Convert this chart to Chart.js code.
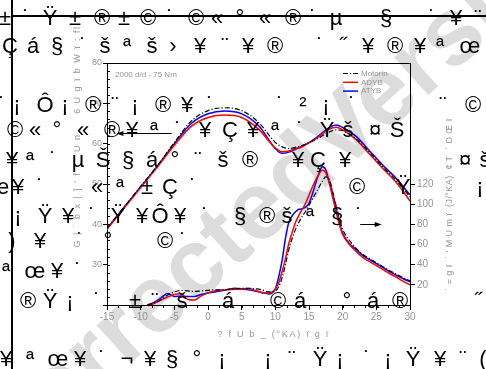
<!DOCTYPE html>
<html><head><meta charset="utf-8">
<script src="https://cdn.jsdelivr.net/npm/chart.js@4.4.0/dist/chart.umd.min.js"></script>
<style>
html,body{margin:0;padding:0;background:#fff;}
#wrap{position:relative;width:486px;height:369px;overflow:hidden;background:#fff;}
#wm{position:absolute;left:0;top:0;font-family:"Liberation Sans",Arial,sans-serif;font-size:96px;font-weight:bold;color:#dcdcdc;white-space:nowrap;line-height:96px;}
#c{position:absolute;left:0;top:0;}
#ov{position:absolute;left:0;top:0;width:486px;height:369px;pointer-events:none;}
.g{position:absolute;font-family:"Liberation Sans",Arial,sans-serif;font-size:22px;color:#000;white-space:pre;}
.t{position:absolute;font-family:"Liberation Sans",Arial,sans-serif;font-size:9px;color:#959595;white-space:pre;line-height:1;}
.ln{position:absolute;background:#000;}
</style></head>
<body>
<div id="wrap">
  <div id="wm">CorrectedVersion</div>
  <canvas id="c" width="486" height="369"></canvas>
  <div id="ov"></div>
</div>
<script>
// ---- chart data ----
const seriesNames = ['Motorin', 'ADYB', 'ATYB'];
const crankP = [-15,-12.5,-10,-7.5,-5,-2.5,0,2.5,5,7.5,10,11,12,13,14,16,18,19,20,22,24,26,28,30];
const pMotorin = [39.0,44.2,49.4,54.6,60.3,65.6,68.2,68.9,68.2,65.3,60.3,59.2,58.8,59.1,59.6,61.0,62.9,63.4,63.2,61.2,57.8,54.2,50.8,46.8];
const pADYB    = [38.8,44.0,49.1,54.3,59.6,64.3,66.5,67.1,66.5,63.6,58.9,58.0,58.2,58.8,59.4,61.2,63.6,64.1,63.4,61.0,57.4,53.8,50.3,45.8];
const pATYB    = [39.0,44.2,49.3,54.5,60.0,65.0,67.4,68.1,67.4,64.5,58.8,57.6,57.9,58.6,59.3,61.4,64.0,64.6,64.0,61.8,58.2,54.6,51.3,47.3];

const crankH = [-9,-8,-7,-6,-5,-4,-3,-2,-1,0,1,2,3,4,5,6,7,8,9,10,
  10.5,11,11.5,12,12.5,13,13.5,14,14.5,15,15.5,16,16.5,17,17.5,18,18.5,19,19.5,20,
  21,22,23,24,25,26,27,28,29,30];
const hMotorin = [0,2,5,10,13,14.5,14,13.5,14,14.5,15,15,15.5,16,16.5,16.5,16,15,13,14,
  18,27,40,55,66,75,82,88,93,99,105,111,117,123,127,125,113,99,86,75,
  64,56,50,46,42,38,34,30.5,27,24];
const hADYB = [0,1.5,5,8,10.5,11.2,5.5,5,9,12,14,14.8,15,15.5,16.2,16.3,14.5,12.5,11.8,16,
  22,33,46,61,72,82,89,95,101,109,117,124,130,134,131,121,107,93,80,70,
  60,53,47,43,39,35,31,27.5,23.5,20];
const hATYB = [0,2.5,7,11.5,8.5,9,8.5,8.5,10.5,12,13,14,15.5,16.5,15.8,15,13.8,12.2,11,16,
  28,44,66,82,88.5,92.5,95,95.5,97,101,110,121,131,137,134,122,111,97,82,71,
  61,55,49,45,41,37,33,29.5,26,23];

const xTicks = [-15,-10,-5,0,5,10,15,20,25,30];
const pTicks = [30,40,50,60,70,80];
const hTicks = [20,40,60,80,100,120];
const conditionText = '2000 d/d - 75 Nm';
const xTitle = '? f U b _ (°KA) ï g ï';
const yLeftTitle = 'G | ˙ b x | ] \' f     U n     6 U g ï b W ï : fl';
const yRightTitle = '˙ = g ï  ˙ \' M U m ï  (J/°KA)  ¢ T  ` D Œ ï';
// arrows: [x from, x to (head), y, axis]
const arrows = [[-5.4, -13.6, 62.7, 'yP'], [22.6, 25.8, 80, 'yH']];

// overlay glyph rows [baseline, [[char, x]]]
const glyphRows = [
 [25, [['±',5],['˙',26],['Ÿ',50],['±',75],['®',102],['±',124],['©',148],['˙',170],['©',196],['«',217],['°',240],['«',265],['®',293],['˙',313],['µ',336],['§',386],['˙',432],['¥',456],['¨',478]]],
 [53, [['Ç',10],['á',33],['§',57],['˙',83],['š',105],['ª',127],['š',152],['›',173],['¥',200],['¨',225],['¥',248],['®',275],['˙',320],['˝',343],['¥',368],['®',395],['¥',420],['ª',440],['œ',470]]],
 [112,[['˙',2],['¡',17],['Ô',45],['¡',65],['®',93],['¨',115],['¡',135],['®',163],['¥',187],['˙',210],['˙',280],['²',303],['¡',326],['˙',352],['¨',443],['©',473]]],
 [137,[['©',15],['«',35],['°',57],['«',83],['®',112],['¥',132],['ª',154],['˙',178],['¥',205],['Ç',230],['¥',253],['ª',275],['˙',300],['Ÿ',327],['š',348],['¤',375],['Š',397]]],
 [167,[['¥',12],['ª',30],['˙',53],['µ',78],['Š',103],['§',128],['á',152],['°',175],['¨',198],['š',223],['®',250],['¥',298],['Ç',318],['¥',345],['¤',465],['š',485]]],
 [194,[['e',3],['¥',18],['˙',40],['«',97],['ª',120],['±',147],['Ç',170],['˙',193],['©',357],['Ÿ',403],['¡',480]]],
 [223,[['¡',18],['Ÿ',45],['¥',68],['˙',92],['Ÿ',118],['¥',142],['Ô',160],['¥',180],['˙',205],['§',240],['®',267],['š',287],['ª',310],['§',337],['˙',359]]],
 [248,[[')',12],['¥',40],['˙',80],['°',108],['©',165],['˙',183]]],
 [278,[['ª',6],['œ',35],['¥',57],['˙',78]]],
 [308,[['®',28],['Ÿ',50],['¡',70],['˙',97],['±',135],['¨',155],['š',182],['á',228],['©',278],['á',300],['°',347],['á',373],['®',400],['˝',478]]],
 [366,[['¥',6],['ª',30],['œ',58],['¥',80],['˙',102],['¬',127],['¥',150],['§',172],['°',197],['¡',222],['¡',268],['¨',292],['Ÿ',320],['¡',340],['˙',367],['¡',388],['Ÿ',413],['¥',440],['¨',463],['(',483]]]
];

// ---- overlay ----
const ov = document.getElementById('ov');
const mctx = document.createElement('canvas').getContext('2d');
mctx.font = '22px "Liberation Sans"';
const mm = mctx.measureText('Hg');
const asc = mm.fontBoundingBoxAscent || 20, desc = mm.fontBoundingBoxDescent || 5;
glyphRows.forEach(([b, list]) => {
  list.forEach(([ch, x]) => {
    const s = document.createElement('span');
    s.className = 'g';
    s.textContent = ch;
    s.style.lineHeight = (asc + desc) + 'px';
    s.style.top = (b - asc) + 'px';
    s.style.left = x + 'px';
    s.style.transform = 'translateX(-50%)';
    ov.appendChild(s);
  });
});
function addLine(l, t, w, h) {
  const d = document.createElement('div'); d.className = 'ln';
  d.style.left = l + 'px'; d.style.top = t + 'px'; d.style.width = w + 'px'; d.style.height = h + 'px';
  ov.appendChild(d);
}
addLine(11, 0, 2, 369);
addLine(11, 15, 475, 2);
function addText(txt, cx, cy, rot, len, size) {
  const d = document.createElement('div'); d.className = 't'; d.textContent = txt;
  d.style.fontSize = size + 'px';
  ov.appendChild(d);
  const n = [...txt].length;
  const w0 = d.offsetWidth;
  d.style.letterSpacing = ((len - w0) / n) + 'px';
  const w = d.offsetWidth, h = d.offsetHeight;
  d.style.left = (cx - w / 2) + 'px'; d.style.top = (cy - h / 2) + 'px';
  if (rot) d.style.transform = 'rotate(' + rot + 'deg)';
}
addText(xTitle, 274, 334, 0, 113, 9);
addText(yLeftTitle, 78, 136, -90, 222, 9);
addText(yRightTitle, 449, 204, -90, 172, 9);

// watermark: baseline start point, rotated
const wm = document.getElementById('wm');
const wmAsc = 96 * 0.905 + (96 - 96 * 1.117) / 2;
wm.style.transformOrigin = '0 ' + wmAsc + 'px';
wm.style.left = '3px'; wm.style.top = (478 - wmAsc) + 'px';
wm.style.transform = 'rotate(-42deg)';

// ---- chart ----
function ds(label, xs, ys, color, dash, axis, width) {
  return {label, data: xs.map((x, i) => ({x, y: ys[i]})), borderColor: color, borderWidth: width,
    borderDash: dash, yAxisID: axis, pointRadius: 0, fill: false, cubicInterpolationMode: 'monotone'};
}
const colors = ['#000000', '#ff0000', '#0000ff'];
const dashes = [[5,2,1.2,2], [], []];
const widths = [1.2, 1.5, 1.5];
const pSets = [pMotorin, pADYB, pATYB];
const hSets = [hMotorin, hADYB, hATYB];
const datasets = [];
seriesNames.forEach((n, i) => datasets.push(ds(n, crankP, pSets[i], colors[i], dashes[i], 'yP', widths[i])));
seriesNames.forEach((n, i) => datasets.push(ds(n + ' HRR', crankH, hSets[i], colors[i], dashes[i], 'yH', widths[i])));

const FONT = '"Liberation Sans", Arial, sans-serif';
const extras = {
  id: 'extras',
  afterDraw(chart) {
    const c = chart.ctx, a = chart.chartArea;
    const sx = chart.scales.x, sp = chart.scales.yP;
    c.save();
    c.strokeStyle = '#000'; c.lineWidth = 1;
    c.beginPath(); c.moveTo(a.left, a.top + 0.5); c.lineTo(a.right, a.top + 0.5); c.stroke();
    c.beginPath();
    for (let v = -15; v <= 30.001; v += 5 / 3) {
      const px = Math.round(sx.getPixelForValue(v)) + 0.5;
      c.moveTo(px, a.bottom); c.lineTo(px, a.bottom + 3);
    }
    for (let v = 20; v <= 80; v += 2) {
      const py = Math.round(sp.getPixelForValue(v)) + 0.5;
      c.moveTo(a.left, py); c.lineTo(a.left + 3, py);
    }
    c.stroke();
    arrows.forEach(([x0, x1, y, ax]) => {
      const sc = chart.scales[ax];
      const p0 = sx.getPixelForValue(x0), p1 = sx.getPixelForValue(x1), py = Math.round(sc.getPixelForValue(y)) + 0.5;
      const dir = Math.sign(p1 - p0);
      c.beginPath(); c.moveTo(p0, py); c.lineTo(p1 - dir * 5, py); c.stroke();
      c.beginPath(); c.moveTo(p1, py); c.lineTo(p1 - dir * 7, py - 2.5); c.lineTo(p1 - dir * 7, py + 2.5); c.closePath();
      c.fillStyle = '#000'; c.fill();
    });
    c.fillStyle = '#959595'; c.font = '8px ' + FONT; c.textBaseline = 'middle'; c.textAlign = 'left';
    c.fillText(conditionText, a.left + 8, 75);
    seriesNames.forEach((n, i) => {
      const y = 73.5 + i * 8.8;
      c.strokeStyle = colors[i]; c.lineWidth = widths[i]; c.setLineDash(dashes[i]);
      c.beginPath(); c.moveTo(343, y); c.lineTo(358, y); c.stroke();
      c.setLineDash([]);
      c.fillStyle = '#959595'; c.fillText(n, 361, y);
    });
    c.restore();
  }
};

new Chart(document.getElementById('c'), {
  type: 'line',
  data: {datasets},
  options: {
    responsive: false, animation: false, devicePixelRatio: 1,
    layout: {padding: {top: 63, left: 0, right: 0, bottom: 0}},
    plugins: {legend: {display: false}, tooltip: {enabled: false}},
    scales: {
      x: {type: 'linear', min: -15, max: 30,
        afterBuildTicks: s => { s.ticks = xTicks.map(v => ({value: v})); },
        ticks: {color: '#959595', font: {size: 10, family: FONT}, padding: 1, maxRotation: 0, autoSkip: false},
        grid: {drawOnChartArea: false, tickLength: 5, color: '#000'},
        border: {color: '#000', width: 1},
        afterFit: s => { s.height = 64; }},
      yP: {type: 'linear', position: 'left', min: 20, max: 80,
        afterBuildTicks: s => { s.ticks = [20].concat(pTicks).map(v => ({value: v})); },
        ticks: {color: '#959595', font: {size: 9, family: FONT}, padding: 1, callback: v => (pTicks.includes(v) ? String(v) : '')},
        grid: {drawOnChartArea: false, tickLength: 4, color: '#000'},
        border: {color: '#000', width: 1},
        afterFit: s => { s.width = 107; }},
      yH: {type: 'linear', position: 'right', min: 0, max: 240,
        afterBuildTicks: s => { s.ticks = hTicks.map(v => ({value: v})); },
        ticks: {color: '#959595', font: {size: 10, family: FONT}, padding: 2, callback: v => String(v)},
        grid: {drawOnChartArea: false, tickLength: 5, color: '#000'},
        border: {color: '#000', width: 1},
        afterFit: s => { s.width = 76; }}
    }
  },
  plugins: [extras]
});
</script>
</body></html>
